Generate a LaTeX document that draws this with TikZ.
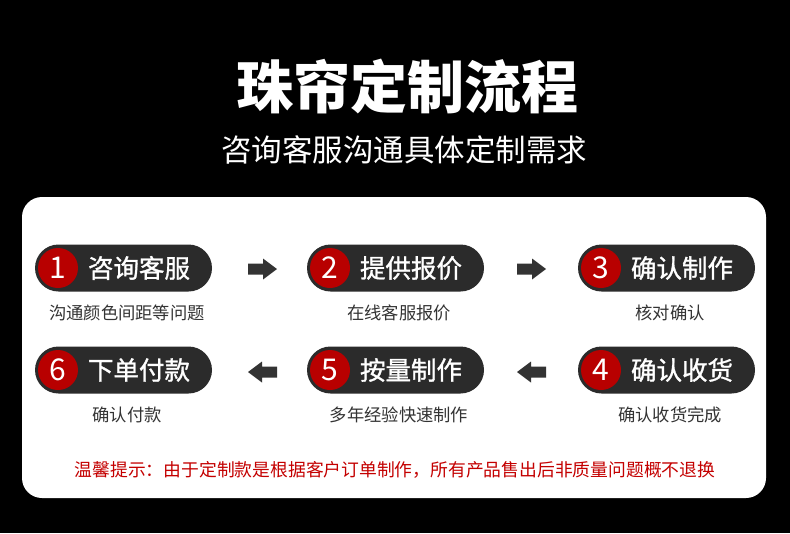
\documentclass[tikz,border=0pt]{standalone}
\usepackage{fontspec}
\newfontfamily\cjk{Noto Sans CJK SC}
\newfontfamily\cjkm[FakeBold=1.2]{Noto Sans CJK SC}
\definecolor{pillc}{HTML}{2B2B2B}
\definecolor{redc}{HTML}{B80000}
\definecolor{warnc}{HTML}{C40000}
\definecolor{arrowc}{HTML}{333333}
\begin{document}
\begin{tikzpicture}[x=1pt,y=-1pt,
  pill/.style={fill=pillc,rounded corners=23.5pt},
  numc/.style={circle,fill=redc,minimum size=40pt,inner sep=0pt,text=white,font=\cjk\fontsize{30}{30}\selectfont},
  ptext/.style={text=white,font=\cjkm\fontsize{25.5}{25.5}\selectfont,inner sep=0pt},
  stext/.style={text=black!80,font=\cjk\fontsize{17.3}{17.3}\selectfont,inner sep=0pt},
  barrow/.style={fill=arrowc}]
\useasboundingbox (0,0) rectangle (790,533);
\fill[black] (0,0) rectangle (790,533);
\fill[white,rounded corners=20pt] (22,197) rectangle (766,498);
\node[text=white,font=\cjk\bfseries\fontsize{57}{57}\selectfont,inner sep=0pt] (title) at (407,86) {珠帘定制流程};
\node[text=white,font=\cjk\fontsize{30.5}{30.5}\selectfont,inner sep=0pt] (sub) at (404,150) {咨询客服沟通具体定制需求};
% pills
\foreach \n/\x/\y/\t/\s in {1/35/268/咨询客服/沟通颜色间距等问题,2/307/268/提供报价/在线客服报价,3/578/268/确认制作/核对确认,6/35/370/下单付款/确认付款,5/307/370/按量制作/多年经验快速制作,4/578/370/确认收货/确认收货完成}{
  \fill[pill] (\x,\y-23.5) rectangle (\x+177,\y+23.5);
  \node[numc] (c\n) at (\x+23,\y) {\n};
  \node[ptext] (p\n) at (\x+104,\y) {\t};
  \node[stext] (s\n) at (\x+92,\y+45) {\s};
}
% arrows
\foreach \ax in {248,517}{
  \fill[barrow] (\ax,263.5) -- (\ax+15,263.5) -- (\ax+15,258.5) -- (\ax+29,269) -- (\ax+15,279.5) -- (\ax+15,274.5) -- (\ax,274.5) -- cycle;
  \fill[barrow] (\ax+29,366.5) -- (\ax+14,366.5) -- (\ax+14,361.5) -- (\ax,372) -- (\ax+14,382.5) -- (\ax+14,377.5) -- (\ax+29,377.5) -- cycle;
}
\node[text=warnc,font=\cjk\fontsize{17.8}{17.8}\selectfont,inner sep=0pt] (warn) at (395,470) {温馨提示：由于定制款是根据客户订单制作，所有产品售出后非质量问题概不退换};
\end{tikzpicture}
\end{document}
